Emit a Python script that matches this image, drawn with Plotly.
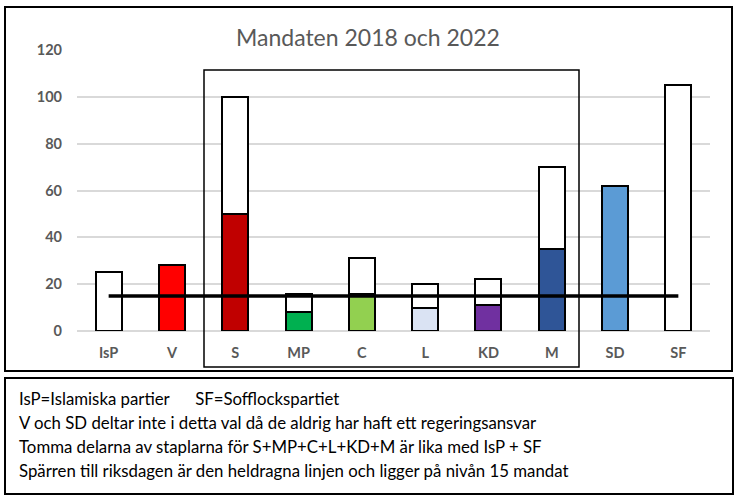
import plotly.graph_objects as go

categories = ["IsP", "V", "S", "MP", "C", "L", "KD", "M", "SD", "SF"]
filled = [None, 28, 50, 8, 16, 10, 11, 35, 62, None]
empty = [25, None, 50, 8, 15, 10, 11, 35, None, 105]
colors = ["#ffffff", "#ff0000", "#c00000", "#00b050", "#92d050", "#dae3f3",
          "#7030a0", "#2f5597", "#5b9bd5", "#ffffff"]
threshold = 15
y_ticks = [0, 20, 40, 60, 80, 100, 120]
title = "Mandaten 2018 och 2022"
notes = [
    "IsP=Islamiska partier      SF=Sofflockspartiet",
    "V och SD deltar inte i detta val då de aldrig har haft ett regeringsansvar",
    "Tomma delarna av staplarna för S+MP+C+L+KD+M är lika med IsP + SF",
    "Spärren till riksdagen är den heldragna linjen och ligger på nivån 15 mandat",
]

W, H = 740, 500
L, R, T, B = 77, 710, 50, 331


def px_x(p):
    return (p - L) / (R - L)


def px_y(p):
    return (B - p) / (B - T)


FONT = "Lato, 'Open Sans', sans-serif"

fig = go.Figure()
fig.add_trace(go.Bar(x=categories, y=filled, marker=dict(color=colors, line=dict(color="black", width=2)),
                     width=0.41, showlegend=False))
fig.add_trace(go.Bar(x=categories, y=empty, marker=dict(color="white", line=dict(color="black", width=2)),
                     width=0.41, showlegend=False))
fig.add_trace(go.Scatter(x=[categories[0], categories[-1]], y=[threshold, threshold], mode="lines",
                         line=dict(color="black", width=3.5), showlegend=False))

shapes = [
    dict(type="rect", xref="paper", yref="paper", x0=px_x(5), x1=px_x(732), y0=px_y(371), y1=px_y(7),
         line=dict(color="black", width=2)),
    dict(type="rect", xref="paper", yref="paper", x0=px_x(5), x1=px_x(733), y0=px_y(494), y1=px_y(378),
         line=dict(color="black", width=2)),
    dict(type="rect", xref="paper", yref="paper", x0=px_x(204), x1=px_x(579), y0=px_y(367), y1=px_y(70),
         line=dict(color="black", width=1.5)),
]

annotations = [
    dict(text=title, xref="paper", yref="paper", x=px_x(368), y=px_y(37), xanchor="center", yanchor="middle",
         showarrow=False, font=dict(family=FONT, size=23, color="#595959"))
]
for i, line in enumerate(notes):
    annotations.append(dict(text=line, xref="paper", yref="paper", x=px_x(17), y=px_y(398 + i * 24.2),
                            xanchor="left", yanchor="middle", showarrow=False,
                            font=dict(family=FONT, size=16.8, color="black")))

fig.update_layout(
    width=W, height=H, margin=dict(l=L, r=W - R, t=T, b=H - B),
    barmode="stack", bargap=0.59,
    paper_bgcolor="white", plot_bgcolor="white",
    shapes=shapes, annotations=annotations,
    font=dict(family=FONT),
    xaxis=dict(type="category", range=[-0.5, 9.5], showgrid=False, showline=False, zeroline=False,
               ticks="", tickfont=dict(family=FONT, size=14.5, color="#595959", weight="bold"),
               ticklabelstandoff=11),
    yaxis=dict(range=[0, 120], tickvals=y_ticks, showgrid=True, gridcolor="#d9d9d9", gridwidth=1.5,
               zeroline=True, zerolinecolor="#d9d9d9", zerolinewidth=1.5, showline=False, ticks="",
               tickfont=dict(family=FONT, size=14.5, color="#595959", weight="bold"),
               ticklabelstandoff=14),
)

fig.write_html("out.html", config={"displayModeBar": False},
               post_script="document.body.style.margin='0';document.body.style.overflow='hidden';")
